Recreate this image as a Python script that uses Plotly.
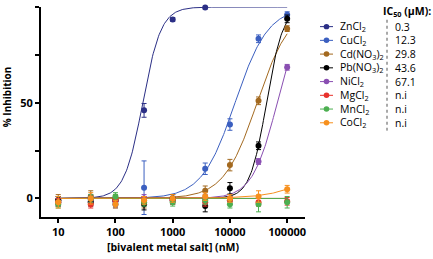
import numpy as np
import plotly.graph_objects as go

# ---- data ----
conc = [10, 37, 100, 316, 1000, 3700, 10000, 31600, 100000]
names = ["ZnCl<sub>2</sub>", "CuCl<sub>2</sub>", "Cd(NO<sub>3</sub>)<sub>2</sub>",
         "Pb(NO<sub>3</sub>)<sub>2</sub>", "NiCl<sub>2</sub>", "MgCl<sub>2</sub>",
         "MnCl<sub>2</sub>", "CoCl<sub>2</sub>"]
ic50_label = ["0.3", "12.3", "29.8", "43.6", "67.1", "n.i", "n.i", "n.i"]
colors = ["#2b2f86", "#3b5fc0", "#a3691f", "#000000", "#8a4fb2", "#e8322c", "#4caf50", "#f7901e"]

zn = [-1, 0, -1.5, 46, 93.5, 99.8]
zn_err = [2, 1.5, 3, 3.6, 1, 0.8]
cu = [-2, -1.5, -3, 5.6, 0, 15.5, 38.6, 83.4, 96]
cu_err = [2, 2, 2, 14, 2, 3, 3, 2, 1.5]
cd = [-1, 1, 0, -2, -1, 4, 17.4, 51, 88.7]
cd_err = [3, 3, 2, 3, 2, 2.5, 3, 2, 1.5]
pb = [-1, -2, -1, -3, 0, -4, 5.3, 27.5, 93.8]
pb_err = [2, 2, 2, 3, 2, 3, 3, 2, 2]
ni = [-2, 0, -1, 0, -1, 0, -1, 19.3, 68.5]
ni_err = [2, 2, 2, 2, 2, 2, 2, 1.5, 1.5]
mg = [-2, -3, -1, -1, -1, -2, -1, -2, -1.5]
mg_err = [2, 2, 2, 2, 2, 2, 2, 2, 2]
mn = [-3, 0, 1, -2, -2, -1, -3, -3, -2]
mn_err = [2, 2, 2, 2, 2, 2, 2, 4, 3]
co = [-2, 0, -3, -1, 0, 1, 0, 1, 4.8]
co_err = [3, 3, 2, 2, 2, 2, 2, 3, 2]

series = [zn, cu, cd, pb, ni, mg, mn, co]
errors = [zn_err, cu_err, cd_err, pb_err, ni_err, mg_err, mn_err, co_err]

# fitted curve parameters (IC50 in nM, Hill slope)
fit_ic50 = [300, 12300, 29800, 43600, 67100, None, None, 1.57e6]
fit_hill = [2.7, 1.5, 1.5, 3.0, 2.0, None, None, 1.07]

xfit = np.logspace(1, 5, 300)

fig = go.Figure()
for i in range(8):
    if fit_ic50[i] is None:
        yfit = np.zeros_like(xfit)
    else:
        yfit = 100.0 / (1.0 + (fit_ic50[i] / xfit) ** fit_hill[i])
    fig.add_trace(go.Scatter(x=xfit, y=yfit, mode="lines",
                             line=dict(color=colors[i], width=1),
                             showlegend=False, hoverinfo="skip", cliponaxis=False))
for i in range(8):
    yv = series[i]
    fig.add_trace(go.Scatter(x=conc[:len(yv)], y=yv, mode="markers",
                             marker=dict(color=colors[i], size=6),
                             error_y=dict(type="data", array=errors[i], color=colors[i],
                                          thickness=1, width=2.5),
                             showlegend=False, cliponaxis=False))

# layout geometry
L, R, T, B = 41, 305, 7, 221
W, H = 433, 259
def px(xp):
    return (xp - L) / (R - L)
def py(yp):
    return (B - yp) / (B - T)

font = "Open Sans"
row_y = [27 + 14.0 * k for k in range(8)]
shapes = []
annotations = []
for i in range(8):
    yy = py(row_y[i])
    shapes.append(dict(type="line", xref="paper", yref="paper",
                       x0=px(320), x1=px(333), y0=yy, y1=yy,
                       line=dict(color=colors[i], width=1)))
    shapes.append(dict(type="circle", xref="paper", yref="paper",
                       x0=px(323.7), x1=px(329.3), y0=py(row_y[i] + 2.8), y1=py(row_y[i] - 2.8),
                       fillcolor=colors[i], line=dict(width=0)))
    annotations.append(dict(text=names[i], xref="paper", yref="paper", x=px(338), y=yy,
                            xanchor="left", yanchor="middle", showarrow=False,
                            font=dict(family=font, size=10.5, color="black")))
    annotations.append(dict(text=ic50_label[i], xref="paper", yref="paper", x=px(393), y=yy,
                            xanchor="left", yanchor="middle", showarrow=False,
                            font=dict(family=font, size=10.5, color="black")))
shapes.append(dict(type="line", xref="paper", yref="paper", x0=px(387), x1=px(387),
                   y0=py(20), y1=py(133), line=dict(color="#555555", width=1, dash="dot")))
annotations.append(dict(text="<b>IC<sub>50</sub> (µM):</b>", xref="paper", yref="paper",
                        x=px(381), y=py(12), xanchor="left", yanchor="middle", showarrow=False,
                        font=dict(family=font, size=10.5, color="black")))
annotations.append(dict(text="<b>% Inhibition</b>", xref="paper", yref="paper",
                        x=px(7), y=py(99), xanchor="center", yanchor="middle", showarrow=False,
                        textangle=-90, font=dict(family=font, size=10, color="black")))

fig.update_layout(
    width=W, height=H,
    margin=dict(l=L, r=W - R, t=T, b=H - B, pad=0),
    paper_bgcolor="white", plot_bgcolor="white",
    font=dict(family=font, color="black"),
    shapes=shapes, annotations=annotations, showlegend=False,
)
fig.update_xaxes(type="log", range=[np.log10(5.0), np.log10(205000)],
                 tickvals=[10, 100, 1000, 10000, 100000],
                 ticktext=["<b>10</b>", "<b>100</b>", "<b>1000</b>", "<b>10000</b>", "<b>100000</b>"],
                 ticks="outside", ticklen=4, tickwidth=1.5, tickcolor="black",
                 showline=True, linecolor="black", linewidth=2, showgrid=False, zeroline=False,
                 tickfont=dict(family=font, size=11),
                 title=dict(text="<b>[bivalent metal salt] (nM)</b>", font=dict(family=font, size=10.5), standoff=5))
fig.update_yaxes(range=[-9.7, 100], tickvals=[0, 50, 100],
                 ticktext=["<b>0</b>", "<b>50</b>", "<b>100</b>"],
                 ticks="outside", ticklen=4, tickwidth=1.5, tickcolor="black",
                 minor=dict(tickvals=[25, 75], ticks="outside", ticklen=4, tickwidth=1.5, tickcolor="black"),
                 showline=True, linecolor="black", linewidth=2, showgrid=False, zeroline=False,
                 tickfont=dict(family=font, size=11))

fig.write_html("out.html")
